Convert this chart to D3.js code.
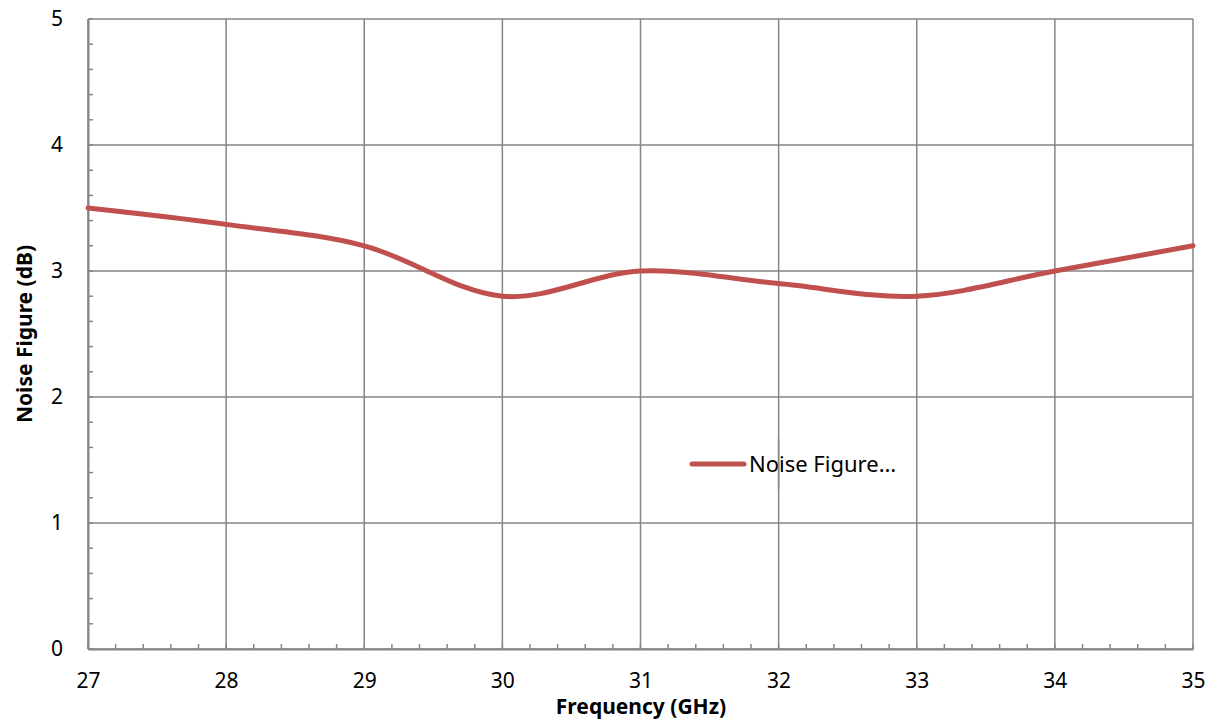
<!DOCTYPE html>
<html>
<head>
<meta charset="utf-8">
<script src="https://cdn.jsdelivr.net/npm/d3@7"></script>
<style>
  body { margin: 0; background: #fff; }
  text { font-family: "Noto Sans", "Open Sans", sans-serif; fill: #000; }
</style>
</head>
<body>
<div class="chart"></div>
<script>
var svgWidth = 1212;
var svgHeight = 719;

var margin = { top: 19, right: 19, bottom: 70, left: 88 };
var width = svgWidth - margin.left - margin.right;
var height = svgHeight - margin.top - margin.bottom;

// data
var frequency = [27, 28, 29, 30, 31, 32, 33, 34, 35];
var noiseFigure = [3.5, 3.37, 3.2, 2.8, 3.0, 2.9, 2.8, 3.0, 3.2];
var xTicks = [27, 28, 29, 30, 31, 32, 33, 34, 35];
var yTicks = [0, 1, 2, 3, 4, 5];
var seriesName = "Noise Figure…";

var svg = d3.select(".chart")
  .append("svg")
  .attr("width", svgWidth)
  .attr("height", svgHeight);

var chartGroup = svg.append("g")
  .attr("transform", `translate(${margin.left}, ${margin.top})`);

var xScale = d3.scaleLinear().domain([27, 35]).range([0, width]);
var yScale = d3.scaleLinear().domain([0, 5]).range([height, 0]);

var gridColor = "#868686";

// grid lines
chartGroup.append("g").selectAll("line")
  .data(xTicks)
  .enter().append("line")
  .attr("x1", d => xScale(d)).attr("x2", d => xScale(d))
  .attr("y1", 0).attr("y2", height)
  .attr("stroke", gridColor).attr("stroke-width", 1.5);

chartGroup.append("g").selectAll("line")
  .data(yTicks)
  .enter().append("line")
  .attr("x1", 0).attr("x2", width)
  .attr("y1", d => yScale(d)).attr("y2", d => yScale(d))
  .attr("stroke", gridColor).attr("stroke-width", 1.5);

// minor ticks (5 per major step, pointing inward)
var xMinor = d3.range(27, 35.001, 0.2);
var yMinor = d3.range(0, 5.001, 0.2);

chartGroup.append("g").selectAll("line")
  .data(xMinor)
  .enter().append("line")
  .attr("x1", d => xScale(d)).attr("x2", d => xScale(d))
  .attr("y1", height).attr("y2", height - 5)
  .attr("stroke", gridColor).attr("stroke-width", 1.5);

chartGroup.append("g").selectAll("line")
  .data(yMinor)
  .enter().append("line")
  .attr("x1", 0).attr("x2", 5)
  .attr("y1", d => yScale(d)).attr("y2", d => yScale(d))
  .attr("stroke", gridColor).attr("stroke-width", 1.5);

// axes
var bottomAxis = d3.axisBottom(xScale).tickValues(xTicks).tickFormat(d3.format("d")).tickSize(0).tickPadding(24);
var leftAxis = d3.axisLeft(yScale).tickValues(yTicks).tickFormat(d3.format("d")).tickSize(0).tickPadding(25);

chartGroup.append("g")
  .attr("transform", `translate(0, ${height})`)
  .call(bottomAxis)
  .call(g => g.select(".domain").attr("stroke", gridColor).attr("stroke-width", 2))
  .selectAll("text")
  .style("font-size", "21px");

chartGroup.append("g")
  .call(leftAxis)
  .call(g => g.select(".domain").attr("stroke", gridColor).attr("stroke-width", 2))
  .selectAll("text")
  .style("font-size", "21px");

// line
var line = d3.line()
  .x((d, i) => xScale(frequency[i]))
  .y(d => yScale(d))
  .curve(d3.curveCardinal.tension(0));

chartGroup.append("path")
  .datum(noiseFigure)
  .attr("d", line)
  .attr("fill", "none")
  .attr("stroke", "#C0504D")
  .attr("stroke-width", 5)
  .attr("stroke-linecap", "round");

// legend
chartGroup.append("line")
  .attr("x1", 604).attr("x2", 656)
  .attr("y1", 445).attr("y2", 445)
  .attr("stroke", "#C0504D")
  .attr("stroke-width", 5)
  .attr("stroke-linecap", "round");

chartGroup.append("text")
  .attr("x", 661).attr("y", 453)
  .style("font-size", "22px")
  .text(seriesName);

// grid line on top of legend text like the original
chartGroup.append("line")
  .attr("x1", xScale(32)).attr("x2", xScale(32))
  .attr("y1", 420).attr("y2", 470)
  .attr("stroke", gridColor).attr("stroke-width", 1.5);

// axis titles
svg.append("text")
  .attr("x", 641)
  .attr("y", 714)
  .attr("text-anchor", "middle")
  .style("font-size", "21px")
  .style("font-weight", "bold")
  .text("Frequency (GHz)");

svg.append("text")
  .attr("transform", `translate(32, ${margin.top + height / 2}) rotate(-90)`)
  .attr("text-anchor", "middle")
  .style("font-size", "21px")
  .style("font-weight", "bold")
  .text("Noise Figure (dB)");
</script>
</body>
</html>
